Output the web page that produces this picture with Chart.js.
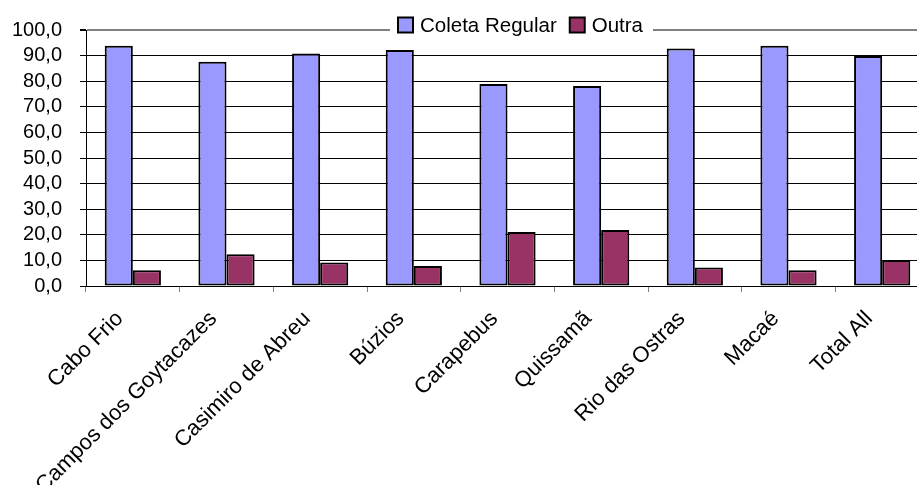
<!DOCTYPE html>
<html>
<head>
<meta charset="utf-8">
<script src="https://cdn.jsdelivr.net/npm/chart.js@4/dist/chart.umd.min.js"></script>
<style>
  html, body { margin: 0; padding: 0; background: #fff; overflow: hidden; }
  #wrap { width: 929px; height: 485px; }
</style>
</head>
<body>
<div id="wrap"><canvas id="myChart"></canvas></div>
<script>
const municipios = ['Cabo Frio', 'Campos dos Goytacazes', 'Casimiro de Abreu', 'Búzios',
  'Carapebus', 'Quissamã', 'Rio das Ostras', 'Macaé', 'Total All'];
const coletaRegular = [93.8, 87.6, 90.8, 92.2, 78.9, 78.1, 92.8, 93.8, 89.8];
const outra = [6.2, 12.4, 9.2, 7.8, 21.1, 21.9, 7.2, 6.2, 10.2];
const yTicks = [0, 10, 20, 30, 40, 50, 60, 70, 80, 90, 100];

const fonte = 'Arial, "Liberation Sans", sans-serif';

// legenda desenhada por cima da linha do topo, como no Excel
const legendaTopo = {
  id: 'legendaTopo',
  afterDraw(chart) {
    const ctx = chart.ctx;
    ctx.save();
    ctx.font = '20.5px ' + fonte;
    ctx.textBaseline = 'middle';
    const box = 15, gap = 7, sep = 13;
    let w = 0;
    chart.data.datasets.forEach((ds, i) => {
      w += box + gap + ctx.measureText(ds.label).width + (i ? sep : 0);
    });
    let x = 398;
    const y = 25;
    ctx.fillStyle = '#fff';
    ctx.fillRect(x - 8, 10, w + 18, 26);
    chart.data.datasets.forEach(ds => {
      ctx.fillStyle = ds.backgroundColor;
      ctx.fillRect(x, y - box / 2, box, box);
      ctx.strokeStyle = '#000';
      ctx.lineWidth = 2;
      ctx.strokeRect(x, y - box / 2, box, box);
      x += box + gap;
      ctx.fillStyle = '#000';
      ctx.fillText(ds.label, x, y + 1);
      x += ctx.measureText(ds.label).width + sep;
    });
    ctx.restore();
  }
};

new Chart(document.getElementById('myChart'), {
  type: 'bar',
  data: {
    labels: municipios,
    datasets: [{
      label: 'Coleta Regular',
      data: coletaRegular,
      backgroundColor: '#9999FF',
      borderColor: '#000',
      borderWidth: 2,
      borderSkipped: false
    },
    {
      label: 'Outra',
      data: outra,
      backgroundColor: '#993366',
      borderColor: '#000',
      borderWidth: 2,
      borderSkipped: false
    }]
  },
  options: {
    responsive: true,
    maintainAspectRatio: false,
    animation: false,
    layout: { padding: { top: 30, left: 0, right: 0, bottom: 0 } },
    datasets: { bar: { categoryPercentage: 0.6, barPercentage: 1.0 } },
    plugins: {
      legend: { display: false },
      tooltip: { enabled: false }
    },
    scales: {
      x: {
        offset: true,
        afterFit: s => { s.height = 199; },
        grid: {
          offset: true,
          drawOnChartArea: false,
          color: '#808080',
          tickLength: 6
        },
        border: { color: '#000', width: 1 },
        ticks: {
          color: '#000',
          font: { family: fonte, size: 22 },
          minRotation: 45,
          maxRotation: 45,
          autoSkip: false,
          padding: 14,
          labelOffset: -13
        }
      },
      y: {
        min: 0,
        max: 100,
        afterFit: s => { s.width = 86; },
        afterBuildTicks: s => { s.ticks = yTicks.map(v => ({ value: v })); },
        grid: {
          color: ctx => ctx.tick && ctx.tick.value === 100 ? '#808080' : '#000',
          lineWidth: ctx => ctx.tick && ctx.tick.value === 100 ? 2 : 1,
          tickColor: '#000',
          tickLength: 6
        },
        border: { color: '#000', width: 1 },
        ticks: {
          color: '#000',
          padding: 18,
          autoSkip: false,
          stepSize: 10,
          font: { family: fonte, size: 20 },
          callback: v => v.toFixed(1).replace('.', ',')
        }
      }
    }
  },
  plugins: [legendaTopo]
});
</script>
</body>
</html>
